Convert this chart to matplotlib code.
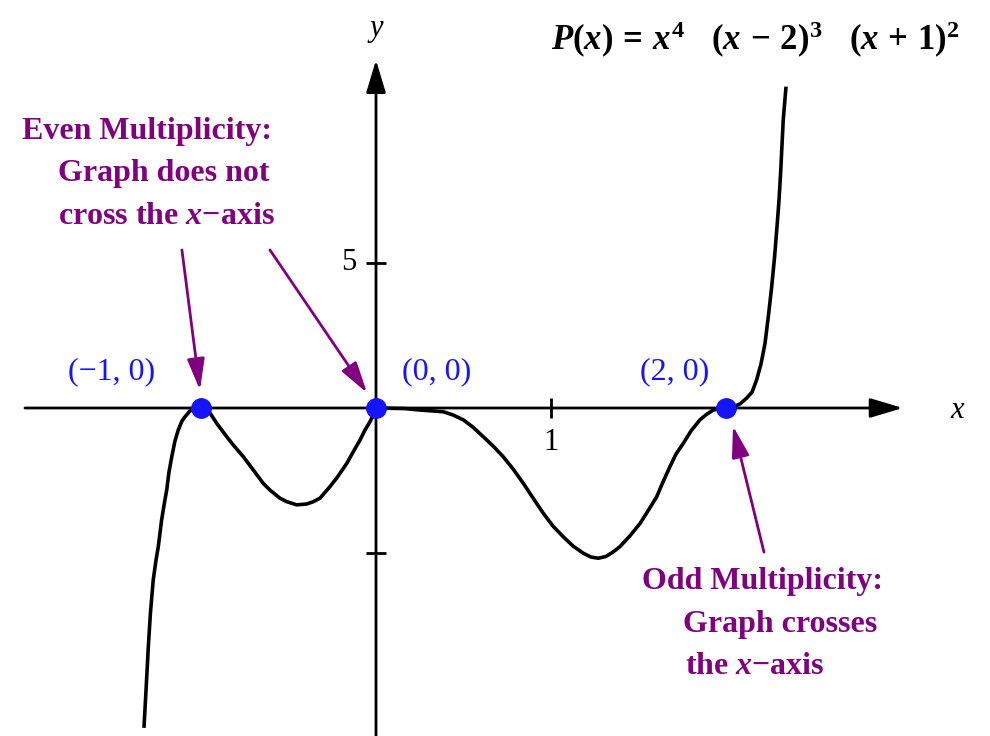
import matplotlib
matplotlib.use("Agg")
import matplotlib.pyplot as plt

# curve points (x, P(x) in sketch units)
curve_x = [-1.326, -1.314, -1.301, -1.289, -1.273, -1.257, -1.244, -1.225, -1.211, -1.196,
           -1.183, -1.167, -1.149, -1.130, -1.109, -1.091, -1.063, -1.034, -1.0,
           -0.977, -0.949, -0.910, -0.853, -0.815, -0.758, -0.701, -0.644, -0.606, -0.549,
           -0.510, -0.453, -0.396, -0.358, -0.320, -0.263, -0.225, -0.167, -0.130, -0.091,
           -0.063, -0.034, -0.015, 0.0,
           0.080, 0.166, 0.251, 0.320, 0.385, 0.440, 0.499, 0.554, 0.613, 0.669,
           0.727, 0.783, 0.842, 0.897, 0.956, 1.011, 1.070, 1.126, 1.185, 1.229,
           1.270, 1.314, 1.354, 1.394, 1.451, 1.509, 1.554, 1.604, 1.640, 1.680,
           1.714, 1.756, 1.800, 1.851, 1.891, 1.927, 1.966, 2.0,
           2.046, 2.080, 2.118, 2.149, 2.175, 2.200, 2.223, 2.243, 2.261, 2.277,
           2.290, 2.303, 2.313, 2.320, 2.327, 2.343]
curve_y = [-11.03, -9.72, -8.23, -7.07, -5.93, -5.24, -4.78, -3.86, -3.34, -2.83,
           -2.21, -1.68, -1.14, -0.76, -0.45, -0.30, -0.10, -0.02, 0.0,
           -0.03, -0.17, -0.53, -0.99, -1.28, -1.68, -2.14, -2.60, -2.83, -3.11,
           -3.23, -3.34, -3.31, -3.23, -3.11, -2.71, -2.42, -1.91, -1.51, -1.10,
           -0.76, -0.47, -0.24, 0.0,
           -0.01, -0.02, -0.07, -0.10, -0.13, -0.24, -0.41, -0.66, -0.99, -1.31,
           -1.68, -2.10, -2.60, -3.10, -3.63, -4.07, -4.44, -4.76, -5.01, -5.14,
           -5.18, -5.12, -4.97, -4.78, -4.41, -3.98, -3.55, -3.06, -2.55, -2.02,
           -1.59, -1.22, -0.79, -0.41, -0.21, -0.07, -0.02, 0.0,
           0.05, 0.14, 0.34, 0.55, 0.97, 1.52, 2.23, 3.21, 4.18, 5.17,
           6.14, 7.17, 8.21, 9.07, 9.93, 11.08]

# zeros of P
roots = [-1, 0, 2]
root_labels = ["(\u22121, 0)", "(0, 0)", "(2, 0)"]

xticks = [1]
xtick_labels = ["1"]
yticks = [5, -5]
ytick_labels = ["5", ""]

plt.rcParams["mathtext.fontset"] = "custom"
plt.rcParams["mathtext.rm"] = "Liberation Serif:bold"
plt.rcParams["mathtext.bf"] = "Liberation Serif:bold"
plt.rcParams["mathtext.it"] = "Liberation Serif:italic:bold"

serif = "Liberation Serif"
purple = "#800080"
blue = "#1414ff"

fig = plt.figure(figsize=(9.9, 7.36), dpi=100)
ax = fig.add_axes([0, 0, 1, 1])
ax.set_xlim(-376 / 175, 614 / 175)
ax.set_ylim(-328 / 29, 408 / 29)
ax.axis("off")

# axes with arrow heads
axis_arrow = dict(arrowstyle="-|>,head_length=1.0,head_width=0.3", lw=2, color="black",
                  mutation_scale=20, shrinkA=0, shrinkB=0)
ax.annotate("", xy=(3.01, 0), xytext=(-2.006, 0), arrowprops=axis_arrow)
ax.annotate("", xy=(0, 12.0), xytext=(0, -11.4), arrowprops=axis_arrow)

# ticks
ax.plot(xticks, [0] * len(xticks), ls="none", marker="|", ms=14, mew=2, color="black")
ax.plot([0] * len(yticks), yticks, ls="none", marker="_", ms=14, mew=2, color="black")
for t, lab in zip(xticks, xtick_labels):
    ax.text(t, -1.2, lab, family=serif, fontsize=22, ha="center", va="center")
for t, lab in zip(yticks, ytick_labels):
    ax.text(-0.154, t, lab, family=serif, fontsize=22, ha="center", va="center")

ax.text(0, 13.1, "y", family=serif, style="italic", fontsize=22, ha="center", va="center")
ax.text(3.32, -0.07, "x", family=serif, style="italic", fontsize=22, ha="center", va="center")

# the curve
ax.plot(curve_x, curve_y, color="black", lw=2.6, solid_joinstyle="round", solid_capstyle="butt")

# zeros
ax.plot(roots, [0] * len(roots), ls="none", marker="o", ms=14, color=blue, zorder=5)
for r, lab, dx in zip(roots, root_labels, [-0.509, 0.349, -0.291]):
    ax.text(r + dx, 1.24, lab, family=serif, fontsize=23, color=blue, ha="center", va="center")

# title formula
ax.text(1.0, 12.69, r"$P(x)\,=\,x^4\quad(x\,-\,2)^3\quad(x\,+\,1)^2$", fontsize=25,
        ha="left", va="center")

# annotations
note_arrow = dict(arrowstyle="-|>,head_length=1.0,head_width=0.28", lw=2, color=purple,
                  mutation_scale=19, shrinkA=0, shrinkB=0)
ax.annotate("", xy=(-1.006, 0.62), xytext=(-1.109, 5.45), arrowprops=note_arrow)
ax.annotate("", xy=(-0.051, 0.52), xytext=(-0.606, 5.45), arrowprops=note_arrow)
ax.annotate("", xy=(2.040, -0.62), xytext=(2.217, -4.97), arrowprops=note_arrow)

note = dict(family=serif, fontweight="bold", fontsize=23, color=purple, ha="left", va="center")
ax.text(-2.023, 9.52, "Even Multiplicity:", **note)
ax.text(-1.817, 8.07, "Graph does not", **note)
ax.text(-1.817, 6.59, "cross the $x$\u2212axis", **note)
ax.text(1.52, -6.0, "Odd Multiplicity:", **note)
ax.text(1.754, -7.48, "Graph crosses", **note)
ax.text(1.766, -8.93, "the $x$\u2212axis", **note)

fig.savefig("out.png", dpi=100)
